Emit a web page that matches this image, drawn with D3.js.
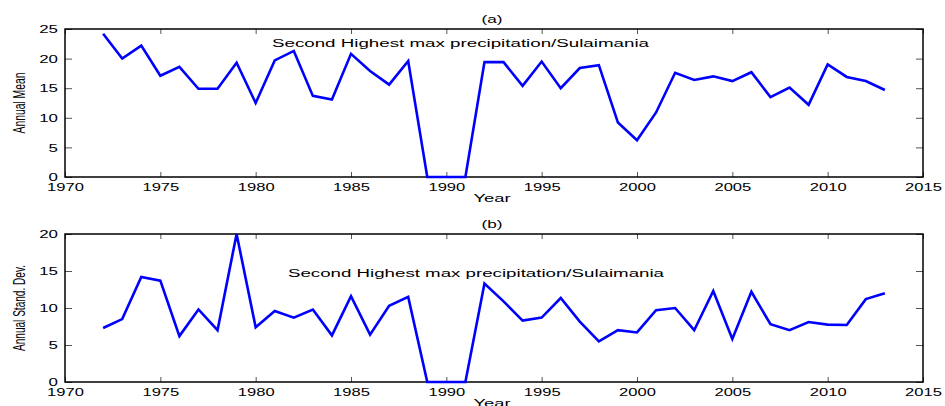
<!DOCTYPE html>
<html>
<head>
<meta charset="utf-8">
<script src="https://cdn.jsdelivr.net/npm/d3@7"></script>
<style>
  html, body { margin: 0; padding: 0; background: #fff; }
  svg { display: block; }
  .lbl { font-family: "Liberation Sans", Arial, sans-serif; font-size: 10.5px; fill: #000; }
  .note { font-family: "Liberation Sans", Arial, sans-serif; font-size: 10px; fill: #000; }
  .ylab { font-family: "Liberation Sans", Arial, sans-serif; font-size: 17px; fill: #000; }
</style>
</head>
<body>
<svg id="chart" width="945" height="406"></svg>
<script>
// Years of record
const years = d3.range(1972, 2014);

// Annual mean of the second highest max precipitation
const annualMean = [
  24.2, 20.0, 22.2, 17.1, 18.6, 14.9, 14.9, 19.3, 12.5, 19.7,
  21.3, 13.7, 13.1, 20.8, 17.9, 15.6, 19.6, 0, 0, 0,
  19.4, 19.4, 15.4, 19.5, 15.0, 18.4, 18.9, 9.2, 6.2, 10.9,
  17.6, 16.4, 17.0, 16.2, 17.7, 13.5, 15.1, 12.2, 19.0, 16.9,
  16.2, 14.7
];

// Annual standard deviation
const annualStd = [
  7.3, 8.5, 14.2, 13.7, 6.2, 9.8, 7.0, 20.0, 7.4, 9.6,
  8.7, 9.8, 6.3, 11.6, 6.4, 10.3, 11.5, 0, 0, 0,
  13.3, 10.9, 8.3, 8.7, 11.35, 8.15, 5.5, 7.0, 6.7, 9.7,
  10.0, 7.0, 12.3, 5.8, 12.2, 7.8, 7.0, 8.1, 7.75, 7.7,
  11.2, 12.0
];

const xTicks = [1970, 1975, 1980, 1985, 1990, 1995, 2000, 2005, 2010, 2015];
const yTicksMean = [0, 5, 10, 15, 20, 25];
const yTicksStd = [0, 5, 10, 15, 20];

const panels = [
  { tag: "(a)", ylabel: "Annual Mean", values: annualMean, yMax: 25, yTicks: yTicksMean,
    top: 29, bottom: 177, note: { x: 272, y: 47, w: 377 }, ylabW: 61 },
  { tag: "(b)", ylabel: "Annual Stand. Dev.", values: annualStd, yMax: 20, yTicks: yTicksStd,
    top: 234, bottom: 382, note: { x: 288, y: 277, w: 376 }, ylabW: 86 }
];
const noteText = "Second Highest max precipitation/Sulaimania";

const svg = d3.select("#chart");
const left = 65, right = 923;

// wide lettering: stretch each label to a fixed advance per character
const widen = (sel, perChar) => sel
  .attr("textLength", function () { return this.textContent.length * perChar; })
  .attr("lengthAdjust", "spacingAndGlyphs");

panels.forEach(p => {
  const x = d3.scaleLinear().domain([1970, 2015]).range([left, right]);
  const y = d3.scaleLinear().domain([0, p.yMax]).range([p.bottom, p.top]);
  const g = svg.append("g");

  // inward ticks on all four sides
  const tickStyle = sel => {
    sel.select(".domain").remove();
    sel.selectAll(".tick line").attr("stroke", "#555").attr("stroke-width", 1);
  };
  g.append("g").attr("transform", `translate(0,${p.bottom})`)
    .call(d3.axisBottom(x).tickValues(xTicks).tickSize(-5).tickPadding(6).tickFormat(d3.format("d")))
    .call(tickStyle)
    .call(s => widen(s.selectAll("text").attr("class", "lbl").attr("dy", "0.72em"), 9.2));
  g.append("g").attr("transform", `translate(0,${p.top})`)
    .call(d3.axisTop(x).tickValues(xTicks).tickSize(-5).tickFormat(""))
    .call(tickStyle);
  g.append("g").attr("transform", `translate(${left},0)`)
    .call(d3.axisLeft(y).tickValues(p.yTicks).tickSize(-7).tickPadding(7))
    .call(tickStyle)
    .call(s => widen(s.selectAll("text").attr("class", "lbl").attr("dy", "0.36em"), 9.4));
  g.append("g").attr("transform", `translate(${right},0)`)
    .call(d3.axisRight(y).tickValues(p.yTicks).tickSize(-7).tickFormat(""))
    .call(tickStyle);

  // box
  g.append("rect")
    .attr("x", left).attr("y", p.top)
    .attr("width", right - left).attr("height", p.bottom - p.top)
    .attr("fill", "none").attr("stroke", "#000").attr("stroke-width", 1.5);

  // data line
  const line = d3.line().x((d, i) => x(years[i])).y(d => y(d));
  g.append("path").datum(p.values)
    .attr("d", line)
    .attr("fill", "none").attr("stroke", "#0000ff").attr("stroke-width", 2.6)
    .attr("stroke-linejoin", "miter");

  // panel tag
  g.append("text").attr("class", "lbl").attr("x", (left + right) / 2 - 2).attr("y", p.top - 6)
    .attr("text-anchor", "middle").attr("textLength", 21).attr("lengthAdjust", "spacingAndGlyphs")
    .text(p.tag);

  // annotation
  g.append("text").attr("class", "note").attr("x", p.note.x).attr("y", p.note.y)
    .attr("textLength", p.note.w).attr("lengthAdjust", "spacingAndGlyphs").text(noteText);

  // x label
  g.append("text").attr("class", "lbl").attr("x", (left + right) / 2 - 2).attr("y", p.bottom + 25)
    .attr("text-anchor", "middle").attr("textLength", 37).attr("lengthAdjust", "spacingAndGlyphs")
    .text("Year");

  // y label: condensed by a horizontal squeeze to the wanted length
  const cy = (p.top + p.bottom) / 2;
  const yl = g.append("text").attr("class", "ylab")
    .attr("text-anchor", "middle")
    .text(p.ylabel);
  const natural = yl.node().getComputedTextLength();
  const k = p.ylabW / natural;
  yl.attr("transform", `translate(25,${cy}) rotate(-90) scale(${k},1)`);
});
</script>
</body>
</html>
